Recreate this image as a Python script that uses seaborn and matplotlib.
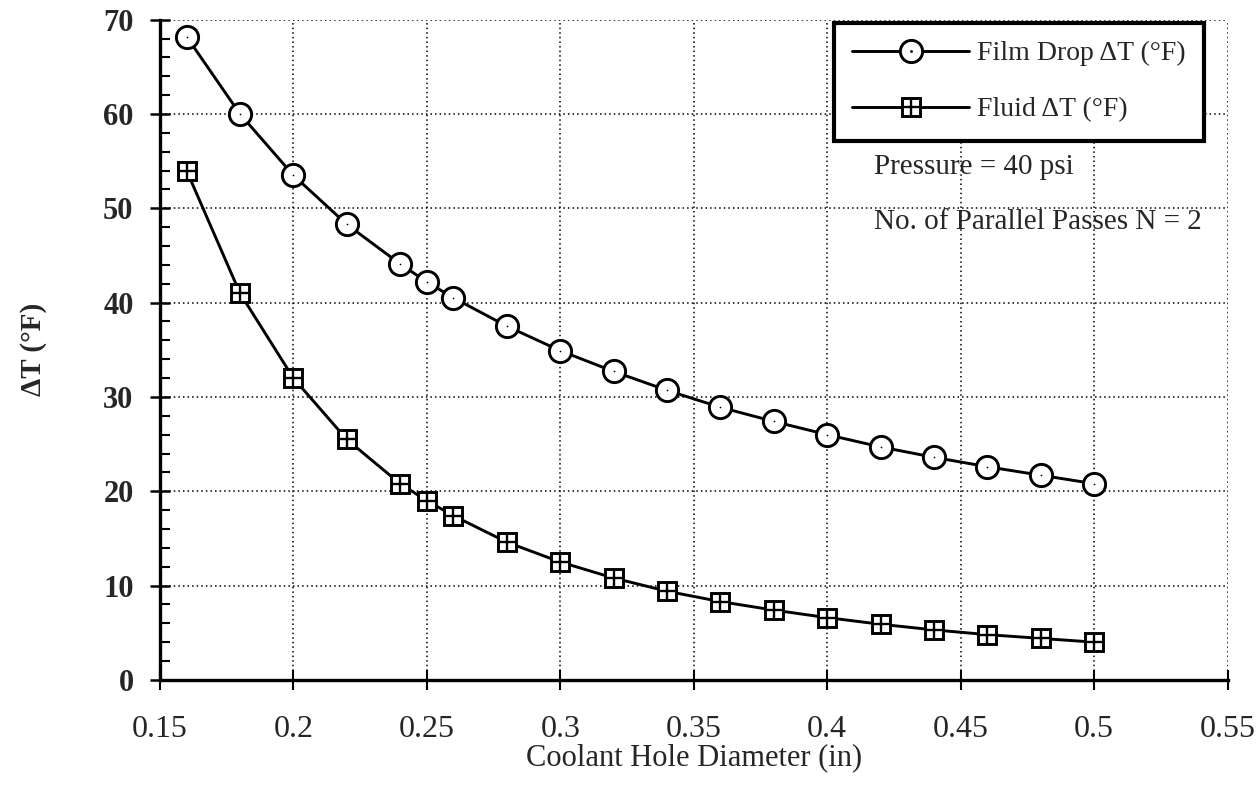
import matplotlib
matplotlib.use("Agg")
import matplotlib.pyplot as plt
from matplotlib.lines import Line2D
from matplotlib.ticker import MultipleLocator
import seaborn as sns
import pandas as pd

diameter = [0.16, 0.18, 0.20, 0.22, 0.24, 0.25, 0.26, 0.28, 0.30, 0.32, 0.34,
            0.36, 0.38, 0.40, 0.42, 0.44, 0.46, 0.48, 0.50]
film_drop = [68.2, 60.0, 53.5, 48.3, 44.1, 42.2, 40.5, 37.5, 34.9, 32.7, 30.7,
             28.9, 27.4, 26.0, 24.7, 23.6, 22.6, 21.7, 20.8]
fluid = [54.0, 41.0, 32.0, 25.5, 20.8, 19.0, 17.4, 14.6, 12.5, 10.8, 9.4,
         8.3, 7.4, 6.6, 5.9, 5.3, 4.8, 4.4, 4.0]
x_ticks = [0.15, 0.2, 0.25, 0.3, 0.35, 0.4, 0.45, 0.5, 0.55]
x_ticklabels = ["0.15", "0.2", "0.25", "0.3", "0.35", "0.4", "0.45", "0.5", "0.55"]
y_ticks = [0, 10, 20, 30, 40, 50, 60, 70]

sns.set_theme(style="white")
plt.rcParams['font.family'] = ['Liberation Serif', 'DejaVu Serif']

df = pd.DataFrame({"d": diameter, "film": film_drop, "fluid": fluid})

fig = plt.figure(figsize=(12.59, 7.86), dpi=100)
ax = fig.add_axes([0.127, 0.135, 0.848, 0.84])

lw = 2.1
mew = 2.1
sns.lineplot(data=df, x="d", y="film", ax=ax, color="black", linewidth=lw,
             marker="o", markersize=16, markerfacecolor="white",
             markeredgecolor="black", markeredgewidth=mew, zorder=3)
sns.scatterplot(data=df, x="d", y="film", ax=ax, color="black", marker=".",
                s=6, linewidth=0, zorder=4)
sns.lineplot(data=df, x="d", y="fluid", ax=ax, color="black", linewidth=lw,
             marker="s", markersize=12.5, markerfacecolor="white",
             markeredgecolor="black", markeredgewidth=mew, zorder=3)
sns.scatterplot(data=df, x="d", y="fluid", ax=ax, color="black", marker="+",
                s=140, linewidth=1.7, zorder=4)

ax.set_xlim(0.15, 0.55)
ax.set_ylim(0, 70)
ax.set_xticks(x_ticks)
ax.set_xticklabels(x_ticklabels, fontsize=23)
ax.set_yticks(y_ticks)
ax.set_yticklabels([str(v) for v in y_ticks], fontsize=22, fontweight="bold")
ax.yaxis.set_minor_locator(MultipleLocator(2))

ax.grid(True, which="major", color="black", linestyle=(0, (1, 2)), linewidth=1.1)
for s in ["top", "right"]:
    ax.spines[s].set_visible(False)
for s in ["left", "bottom"]:
    ax.spines[s].set_color("black")
    ax.spines[s].set_linewidth(2.4)

ax.tick_params(axis="x", which="major", direction="inout", length=14, width=1.5,
               color="black", bottom=True, pad=18)
ax.tick_params(axis="y", which="major", direction="inout", length=14, width=1.8,
               color="black", left=True, pad=12)
ax.tick_params(axis="y", which="minor", direction="in", length=7, width=1.5,
               color="black", left=True)

ax.set_xlabel("Coolant Hole Diameter (in)", fontsize=22, labelpad=0)
ax.set_ylabel("ΔT (°F)", fontsize=21, fontweight="bold", labelpad=40)

h1 = (Line2D([], [], color="black", linewidth=lw, marker="o", markersize=16,
             markerfacecolor="white", markeredgecolor="black", markeredgewidth=mew),
      Line2D([], [], linestyle="none", marker=".", markersize=2, color="black"))
h2 = (Line2D([], [], color="black", linewidth=lw, marker="s", markersize=12.5,
             markerfacecolor="white", markeredgecolor="black", markeredgewidth=mew),
      Line2D([], [], linestyle="none", marker="+", markersize=11.5, markeredgewidth=1.7,
             color="black"))
leg = ax.legend([h1, h2], ["Film Drop ΔT (°F)", "Fluid ΔT (°F)"],
                loc="upper right", bbox_to_anchor=(0.978, 0.995),
                borderaxespad=0,
                fontsize=20, frameon=True, fancybox=False, framealpha=1,
                edgecolor="black", handlelength=4.2, labelspacing=1.1,
                borderpad=0.65, handletextpad=0.3)
leg.get_frame().set_linewidth(3)
leg.set_zorder(5)

ax.text(0.669, 0.777, "Pressure = 40 psi", transform=ax.transAxes,
        fontsize=21, va="center", ha="left")
ax.text(0.669, 0.694, "No. of Parallel Passes N = 2", transform=ax.transAxes,
        fontsize=21, va="center", ha="left")

fig.savefig("out.png", dpi=100)
